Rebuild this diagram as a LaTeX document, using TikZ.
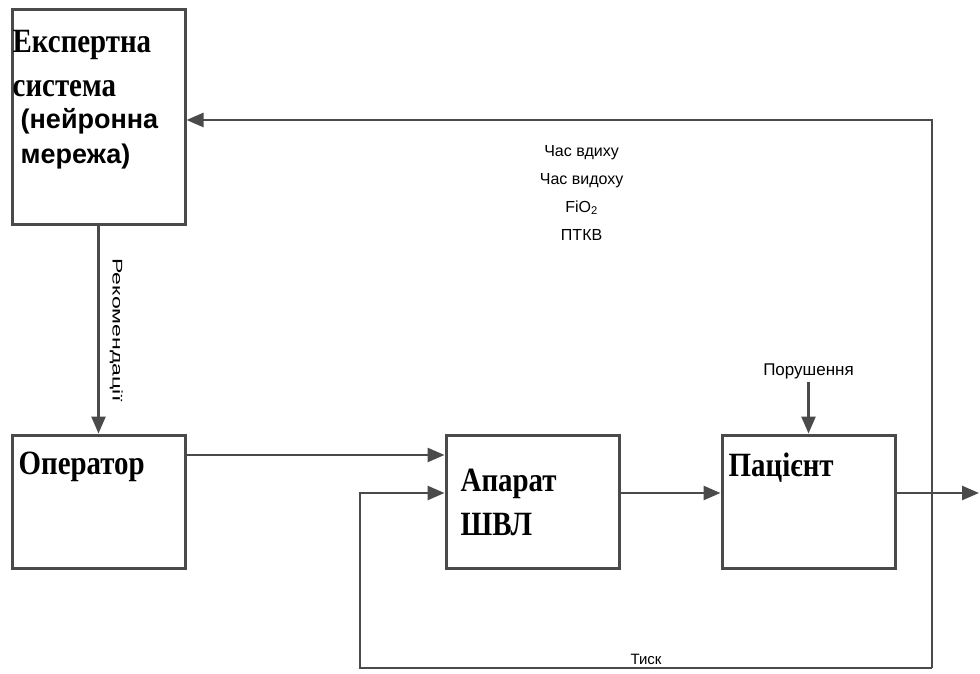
\documentclass[tikz,border=0pt]{standalone}
\usepackage{fontspec}
\setmainfont{Liberation Serif}
\setsansfont{Liberation Sans}
\newfontfamily\titlefont[FakeStretch=0.85]{Liberation Serif}
\usepackage{xcolor}
\usepackage{tikz}
\usetikzlibrary{arrows.meta, positioning, calc}
\definecolor{linegray}{HTML}{4A4A4A}

\begin{document}
\begin{tikzpicture}[x=1pt, y=1pt,
    box/.style={rectangle, draw=linegray, line width=3pt, minimum width=173pt, minimum height=133pt, inner sep=0pt},
    title/.style={font=\titlefont\bfseries\fontsize{34}{44}\selectfont, align=left, inner sep=0pt},
    subtitle/.style={font=\sffamily\bfseries\fontsize{27}{35}\selectfont, align=left, inner sep=0pt},
    note/.style={font=\sffamily\fontsize{16}{28}\selectfont, align=center, inner sep=2pt},
    arr/.style={draw=linegray, line width=2.6pt, -{Triangle[length=17pt,width=14pt]}}]
    \useasboundingbox (0,0) rectangle (980,673);

    \node [box, minimum height=215pt] (exp) at (98.5,555.5) {};
    \node [box, below=207pt of exp] (op) {};
    \node [box, right=258pt of op] (app) {};
    \node [box, right=100pt of app] (pat) {};

    % box texts
    \node [title, anchor=north west] (exptxt) at ([shift={(2,-22)}]exp.north west) {Експертна\\система};
    \node [subtitle, anchor=north west] (nntxt) at ([shift={(10,-100)}]exp.north west) {(нейронна\\мережа)};
    \node [title, anchor=north west] (optxt) at ([shift={(8,-18)}]op.north west) {Оператор};
    \node [title, anchor=north west] (apptxt) at ([shift={(16,-35)}]app.north west) {Апарат\\ШВЛ};
    \node [title, anchor=north west] (pattxt) at ([shift={(8,-19)}]pat.north west) {Пацієнт};

    \coordinate (fbtop) at (932,553);
    \coordinate (fbbot) at (932,5);
    \coordinate (fbleft) at (360,5);
    \coordinate (out) at (979,0);
    \node [note, font=\sffamily\fontsize{17}{17}\selectfont, above=52pt of pat] (dist) {Порушення};

    \draw [arr] (exp) -- node[pos=0.5, sloped, above, inner sep=10pt]{\sffamily\fontsize{14}{14}\selectfont\scalebox{1.65}[1]{Рекомендації}} (op);
    \draw [arr] ([yshift=46.5]op.east) -- ([yshift=46.5]app.west);
    \draw [arr] ([yshift=8.5]app.east) -- ([yshift=8.5]pat.west);
    \draw [arr] ([yshift=8.5]pat.east) -- ([yshift=8.5]pat.east -| out);
    \draw [arr] (dist) -- (pat);
    \draw [arr] (fbbot) -- (fbtop) -- node[pos=0.47, below=22pt, note]{Час вдиху\\Час видоху\\FiO\textsubscript{2}\\ПТКВ} (exp.east |- fbtop);
    \draw [arr] (fbbot) -- node[above, note, font=\sffamily\fontsize{15}{15}\selectfont]{Тиск} (fbleft) |- ([yshift=8.5]app.west);
\end{tikzpicture}
\end{document}
